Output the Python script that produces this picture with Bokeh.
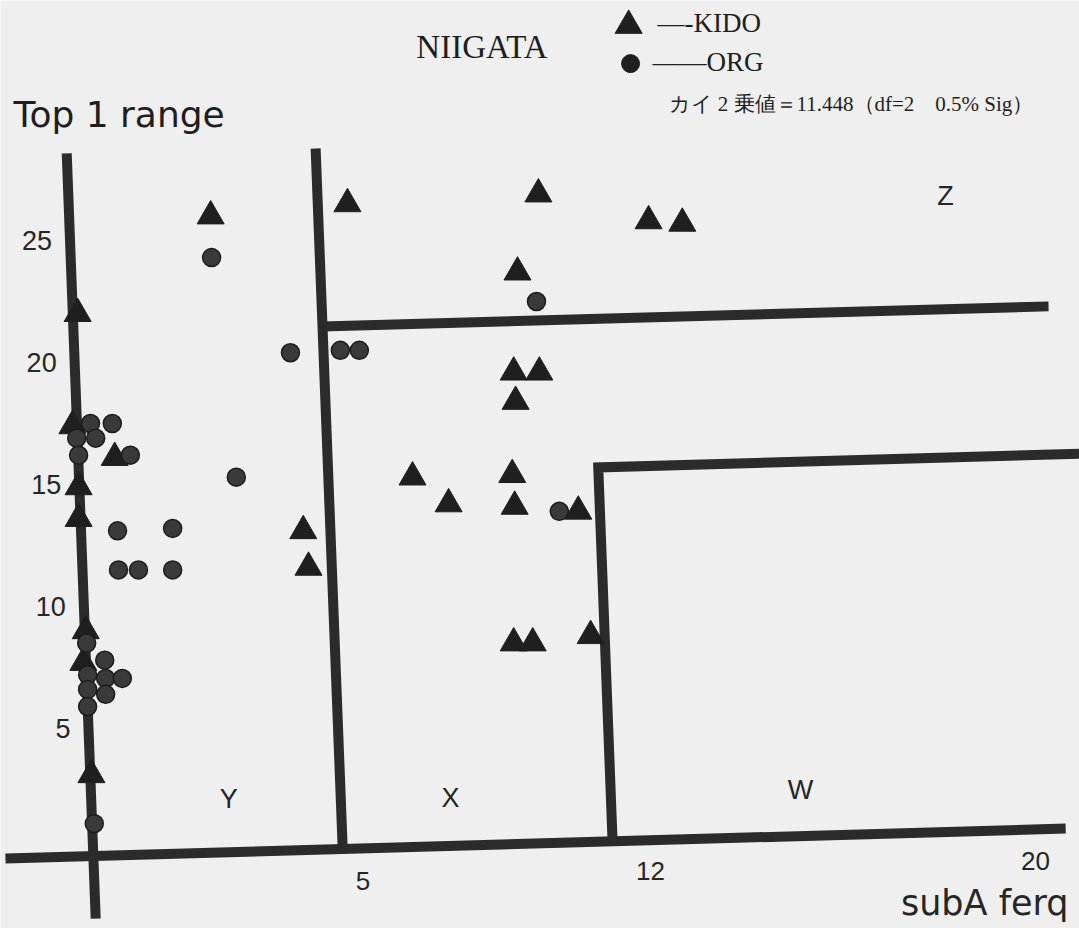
from bokeh.plotting import figure
from bokeh.models import Range1d
from bokeh.core.properties import value
from bokeh.embed import file_html
from bokeh.resources import INLINE

# ---------------- data ----------------
kido_x = [-0.06, -0.17, -0.04, -0.04, 0.11, 0.06, 0.23, 0.72, 2.74, 4.69, 4.80, 5.62,
          6.99, 7.75, 9.64, 9.20, 9.12, 9.66, 9.16, 9.09, 9.14, 10.48, 9.12, 9.52,
          10.74, 11.96, 12.67]
kido_y = [22.0, 17.4, 14.9, 13.6, 9.0, 7.7, 3.1, 16.1, 26.0, 13.1, 11.6, 26.5,
          15.3, 14.2, 26.9, 23.7, 19.6, 19.6, 18.4, 15.4, 14.1, 13.9, 8.5, 8.5,
          8.8, 25.8, 25.7]
org_x = [2.76, 0.21, 0.67, -0.08, 0.32, -0.04, 1.05, 3.28, 0.78, 1.94, 0.80, 1.22,
         1.94, 4.42, 5.47, 5.87, 9.60, 10.08, 0.13, 0.51, 0.15, 0.53, 0.88, 0.15,
         0.53, 0.15, 0.29]
org_y = [24.3, 17.5, 17.5, 16.9, 16.9, 16.2, 16.2, 15.3, 13.1, 13.2, 11.5, 11.5,
         11.5, 20.4, 20.5, 20.5, 22.5, 13.9, 8.5, 7.8, 7.2, 7.05, 7.05, 6.6,
         6.4, 5.9, 1.1]

y_ticks = [5, 10, 15, 20, 25]
x_ticks = [5, 12, 20]
x_tick_labels = ["5", "12", "20"]

series_names = ["—-KIDO", "——ORG"]
title_text = "NIIGATA"
stat_text = "カイ 2 乗値＝11.448（df=2　0.5% Sig）"
y_title = "Top 1 range"
x_title = "subA ferq"
region_names = ["Y", "X", "W", "Z"]

# ---------------- layout (positions in chart units) ----------------
x_axis_line = ([-1.58, 20.74], [-0.33, 0.90])
y_axis_line = ([-0.29, 0.32], [28.57, -2.79])
bound5_line = ([4.95, 5.52], [28.77, 0.08])
top_line = ([5.09, 20.38], [21.48, 22.30])
bound12_line = ([21.2, 10.9, 11.2], [16.27, 15.70, 0.45])
region_pos = ([3.12, 7.79, 15.16, 18.21], [2.13, 2.17, 2.46, 26.84])
x_tick_dx = [45, 0, 5]

INK = "#262626"
BG = "#efefef"

p = figure(width=1079, height=928, output_backend="svg", toolbar_location=None,
           x_axis_location=None, y_axis_location=None, min_border=0,
           x_range=Range1d(-1.6842, 21.0316), y_range=Range1d(-3.197, 34.836))
p.grid.visible = False
p.outline_line_color = None
p.background_fill_color = BG
p.border_fill_color = BG

LW = 10
for xs, ys in [x_axis_line, y_axis_line, bound5_line, top_line, bound12_line]:
    p.line(xs, ys, line_width=LW, line_color="#2b2b2b", line_cap="butt", line_join="miter")

# markers
p.scatter(kido_x, kido_y, marker="triangle", size=27, fill_color="#1f1f1f",
          line_color="#1f1f1f", line_width=1)
p.scatter(org_x, org_y, size=18, marker="circle", fill_color="#3a3a3a",
          line_color="#1c1c1c", line_width=1.5)

# y tick labels (left of the slanted axis line)
def axis_x_at(y):
    (x0, x1), (y0, y1) = y_axis_line
    return x0 + (y0 - y) / (y0 - y1) * (x1 - x0)

p.text([axis_x_at(v) for v in y_ticks], y_ticks, text=[str(v) for v in y_ticks],
       text_align="right", text_baseline="middle", x_offset=-18,
       text_font=value("Liberation Sans"), text_font_size="27px", text_color=INK)

# x tick labels (below the slanted axis line)
def axis_y_at(x):
    (x0, x1), (y0, y1) = x_axis_line
    return y0 + (x - x0) / (x1 - x0) * (y1 - y0)

for t, lab, dx in zip(x_ticks, x_tick_labels, x_tick_dx):
    p.text([t], [axis_y_at(t)], text=[lab], text_align="center", text_baseline="middle",
           x_offset=dx, y_offset=31, text_font=value("Liberation Sans"),
           text_font_size="26px", text_color=INK)

# region letters
p.text(region_pos[0], region_pos[1], text=region_names, text_align="center",
       text_baseline="middle", text_font=value("Liberation Sans"),
       text_font_size="27px", text_color=INK)

# axis titles
p.text([-1.41], [30.16], text=[y_title], text_align="left", text_baseline="middle",
       text_font=value("DejaVu Sans"), text_font_size="36px", text_color="#1e1e1e")
p.text([20.8], [-2.17], text=[x_title], text_align="right", text_baseline="middle",
       text_font=value("DejaVu Sans"), text_font_size="35px", text_color=INK)

# title and statistic
p.text([7.07], [32.91], text=[title_text], text_align="left", text_baseline="middle",
       text_font=value("Liberation Serif"), text_font_size="33px", text_color="#1e1e1e")
p.text([12.38], [30.61], text=[stat_text], text_align="left", text_baseline="middle",
       text_font=value("Liberation Serif"), text_font_size="21px", text_color="#1e1e1e")

# legend (hand-made, like the original)
p.scatter([11.54], [33.81], marker="triangle", size=27, fill_color="#1f1f1f",
          line_color="#1f1f1f")
p.scatter([11.58], [32.25], marker="circle", size=18, fill_color="#1f1f1f",
          line_color="#1f1f1f")
p.text([12.15, 12.04], [33.93, 32.30], text=series_names, text_align="left",
       text_baseline="middle", text_font=value("Liberation Serif"),
       text_font_size="27px", text_color="#1e1e1e")

open("out.html", "w").write(file_html(p, INLINE))
